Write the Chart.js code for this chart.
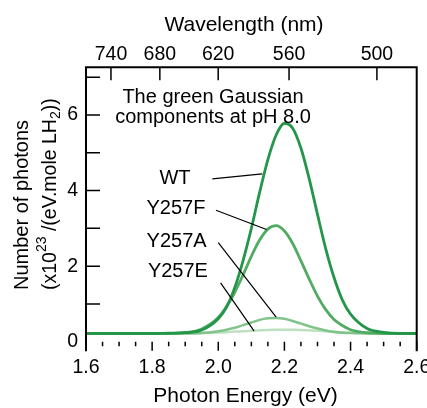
<!DOCTYPE html>
<html>
<head>
<meta charset="utf-8">
<script src="https://cdn.jsdelivr.net/npm/chart.js@4.4.1/dist/chart.umd.min.js"></script>
<style>
  html, body { margin: 0; padding: 0; background: #fff; }
  #grafico { display: block; }
</style>
</head>
<body>
<canvas id="grafico" width="427" height="408"></canvas>
<script>
// --- dados ---
const energia = [1.6, 1.7, 1.8, 1.85, 1.9, 1.95, 2.0, 2.025, 2.05, 2.075, 2.1, 2.125, 2.15, 2.175,
                 2.2, 2.225, 2.25, 2.275, 2.3, 2.325, 2.35, 2.375, 2.4, 2.45, 2.5, 2.55, 2.6];
const wt    = [0.22, 0.22, 0.22, 0.23, 0.24, 0.31, 0.61, 0.92, 1.44, 2.15, 3.0, 3.95, 4.82, 5.47,
               5.78, 5.65, 5.12, 4.31, 3.37, 2.46, 1.70, 1.11, 0.73, 0.35, 0.25, 0.22, 0.22];
const y257f = [0.22, 0.22, 0.22, 0.22, 0.24, 0.34, 0.64, 0.93, 1.31, 1.77, 2.26, 2.69, 2.98, 3.07,
               2.93, 2.60, 2.14, 1.66, 1.21, 0.85, 0.59, 0.43, 0.32, 0.24, 0.22, 0.22, 0.22];
const y257a = [0.22, 0.22, 0.22, 0.22, 0.22, 0.23, 0.28, 0.32, 0.37, 0.44, 0.51, 0.58, 0.62, 0.63,
               0.61, 0.55, 0.48, 0.41, 0.35, 0.30, 0.26, 0.24, 0.23, 0.22, 0.22, 0.22, 0.22];
const y257e = [0.22, 0.22, 0.22, 0.22, 0.22, 0.23, 0.245, 0.255, 0.27, 0.28, 0.295, 0.305, 0.315, 0.32,
               0.32, 0.32, 0.315, 0.305, 0.295, 0.28, 0.27, 0.255, 0.245, 0.23, 0.22, 0.22, 0.22];

const xTicks = [1.6, 1.8, 2.0, 2.2, 2.4, 2.6];
const xMinor = [1.65, 1.7, 1.75, 1.85, 1.9, 1.95, 2.05, 2.1, 2.15, 2.25, 2.3, 2.35, 2.45, 2.5, 2.55];
const yTicks = [0, 2, 4, 6];
const yMarks = [1, 2, 3, 4, 5, 6, 7];
const nmTicks = [740, 680, 620, 560, 500];

// rótulos dentro do gráfico (coordenadas em eV / unidades do eixo y)
const rotulos = [
  { texto: 'WT',     x: 1.869, y: 4.33, de: [1.982, 4.31], ate: [2.133, 4.44] },
  { texto: 'Y257F',  x: 1.872, y: 3.53, de: [1.993, 3.48], ate: [2.146, 2.97] },
  { texto: 'Y257A',  x: 1.874, y: 2.65, de: [2.000, 2.62], ate: [2.175, 0.65] },
  { texto: 'Y257E',  x: 1.878, y: 1.85, de: [2.007, 1.56], ate: [2.108, 0.29] }
];
const tituloInterno = ['The green Gaussian', 'components at pH 8.0'];

const FONTE = '"Liberation Sans", Arial, Helvetica, sans-serif';
const nmParaEv = nm => 1239.84 / nm;

function pares(ys) {
  return energia.map((x, i) => ({ x: x, y: ys[i] }));
}

// --- moldura, marcas dos eixos e textos ---
const moldura = {
  id: 'moldura',
  afterDatasetsDraw(chart) {
    const { ctx, chartArea: a, scales } = chart;
    const sx = scales.x, sy = scales.y;
    ctx.save();
    ctx.strokeStyle = '#000';
    ctx.fillStyle = '#000';

    // linhas de cima, esquerda e direita
    ctx.lineWidth = 2;
    ctx.beginPath();
    ctx.moveTo(a.left, a.bottom + 9.5);
    ctx.lineTo(a.left, a.top);
    ctx.lineTo(a.right, a.top);
    ctx.lineTo(a.right, a.bottom + 9.5);
    ctx.stroke();

    ctx.lineWidth = 1.5;
    ctx.beginPath();
    // eixo y: marcas para dentro
    yMarks.forEach(v => {
      const py = sy.getPixelForValue(v);
      ctx.moveTo(a.left, py);
      ctx.lineTo(a.left + 14, py);
    });
    // eixo de baixo: marcas para fora
    xTicks.forEach(v => {
      const px = sx.getPixelForValue(v);
      ctx.moveTo(px, a.bottom);
      ctx.lineTo(px, a.bottom + 9);
    });
    xMinor.forEach(v => {
      const px = sx.getPixelForValue(v);
      ctx.moveTo(px, a.bottom);
      ctx.lineTo(px, a.bottom + 4.5);
    });
    // eixo de cima (comprimento de onda): marcas para dentro
    nmTicks.forEach(nm => {
      const px = sx.getPixelForValue(nmParaEv(nm));
      ctx.moveTo(px, a.top);
      ctx.lineTo(px, a.top + 13);
    });
    ctx.stroke();

    // linhas indicadoras
    ctx.lineWidth = 1.2;
    ctx.beginPath();
    rotulos.forEach(r => {
      ctx.moveTo(sx.getPixelForValue(r.de[0]), sy.getPixelForValue(r.de[1]));
      ctx.lineTo(sx.getPixelForValue(r.ate[0]), sy.getPixelForValue(r.ate[1]));
    });
    ctx.stroke();

    ctx.font = '20px ' + FONTE;
    ctx.textAlign = 'center';
    ctx.textBaseline = 'middle';
    rotulos.forEach(r => {
      ctx.fillText(r.texto, sx.getPixelForValue(r.x), sy.getPixelForValue(r.y));
    });
    const tx = sx.getPixelForValue(1.984), ty = sy.getPixelForValue(6.47);
    tituloInterno.forEach((t, i) => ctx.fillText(t, tx, ty + i * 20.5));

    // títulos dos eixos
    ctx.font = '21px ' + FONTE;
    ctx.textBaseline = 'alphabetic';
    ctx.fillText('Wavelength (nm)', 244, 30.5);
    ctx.fillText('Photon Energy (eV)', 245.5, 401.5);

    // título do eixo y, duas linhas giradas
    ctx.textAlign = 'left';
    ctx.save();
    ctx.translate(28, 290);
    ctx.rotate(-Math.PI / 2);
    ctx.font = '20px ' + FONTE;
    ctx.fillText('Number of photons', 0, 0);
    ctx.restore();

    ctx.save();
    ctx.translate(55.5, 290);
    ctx.rotate(-Math.PI / 2);
    const partes = [
      { t: '(x10', f: 19.5, dy: 0 },
      { t: '23', f: 14, dy: -10 },
      { t: ' /(eV.mole LH', f: 19.5, dy: 0 },
      { t: '2', f: 14, dy: 4 },
      { t: '))', f: 19.5, dy: 0 }
    ];
    let cx = 0;
    partes.forEach(p => {
      ctx.font = p.f + 'px ' + FONTE;
      ctx.fillText(p.t, cx, p.dy);
      cx += ctx.measureText(p.t).width;
    });
    ctx.restore();

    ctx.restore();
  }
};

const ctx = document.getElementById('grafico').getContext('2d');
const chart = new Chart(ctx, {
  type: 'line',
  data: {
    datasets: [
      { label: 'WT',    data: pares(wt),    borderColor: '#23964a', borderWidth: 2.8 },
      { label: 'Y257F', data: pares(y257f), borderColor: '#52ab62', borderWidth: 2.8 },
      { label: 'Y257A', data: pares(y257a), borderColor: '#80c48b', borderWidth: 2.5 },
      { label: 'Y257E', data: pares(y257e), borderColor: '#bde0c1', borderWidth: 2.5 }
    ]
  },
  options: {
    responsive: false,
    animation: false,
    events: [],
    layout: { padding: { left: 0, right: 10.3, top: 0, bottom: 0 } },
    elements: {
      point: { radius: 0 },
      line: { tension: 0, cubicInterpolationMode: 'monotone', fill: false }
    },
    plugins: { legend: { display: false }, tooltip: { enabled: false } },
    scales: {
      x: {
        type: 'linear', position: 'bottom', min: 1.6, max: 2.6,
        grid: { display: false, drawTicks: false },
        border: { display: false },
        afterBuildTicks: s => { s.ticks = xTicks.map(v => ({ value: v })); },
        afterFit: s => { s.height = 66.2; s.paddingLeft = 0; s.paddingRight = 0; },
        ticks: {
          autoSkip: false, maxRotation: 0, padding: 14, color: '#000',
          font: { family: FONTE, size: 19.5 },
          callback: v => v.toFixed(1)
        }
      },
      x2: {
        type: 'linear', position: 'top', min: 1.6, max: 2.6,
        grid: { display: false, drawTicks: false },
        border: { display: false },
        afterBuildTicks: s => { s.ticks = nmTicks.map(nm => ({ value: nmParaEv(nm) })); },
        afterFit: s => { s.height = 67.3; s.paddingLeft = 0; s.paddingRight = 0; },
        ticks: {
          autoSkip: false, maxRotation: 0, padding: 1, color: '#000',
          font: { family: FONTE, size: 19.5 },
          callback: (v, i) => String(nmTicks[i])
        }
      },
      y: {
        type: 'linear', position: 'left', min: 0, max: 7.26,
        grid: { display: false, drawTicks: false },
        border: { display: false },
        afterBuildTicks: s => { s.ticks = yTicks.map(v => ({ value: v })); },
        afterFit: s => { s.width = 86; s.paddingTop = 0; s.paddingBottom = 0; },
        ticks: {
          autoSkip: false, padding: 8, color: '#000',
          font: { family: FONTE, size: 19.5 },
          callback: v => String(v)
        }
      }
    }
  },
  plugins: [moldura]
});
</script>
</body>
</html>
